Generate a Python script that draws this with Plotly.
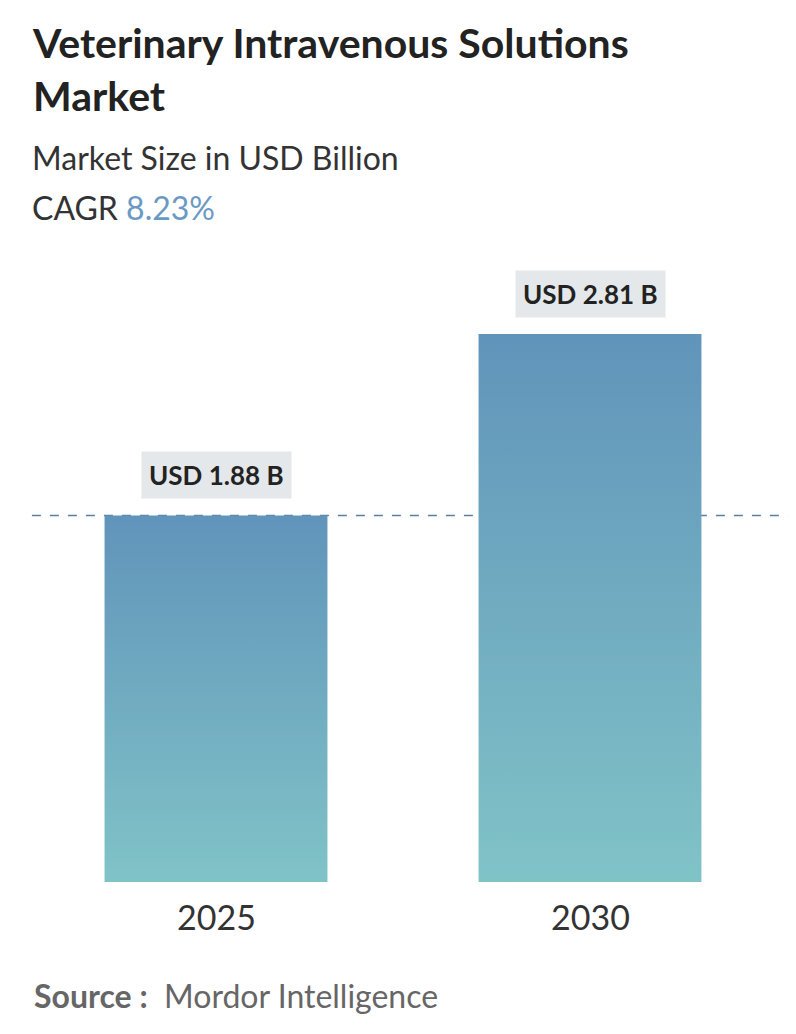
import plotly.graph_objects as go

years = ["2025", "2030"]
values = [1.88, 2.81]
labels = ["USD 1.88 B", "USD 2.81 B"]

W, H = 796, 1034
OFF = 8  # page margin offset
px_per_x = 374.0
px_per_y = 195.0
base_px = 882 - OFF
half = 0.298

fig = go.Figure()
for i, v in enumerate(values):
    fig.add_trace(go.Scatter(
        x=[i - half, i + half, i + half, i - half, i - half],
        y=[0, 0, v, v, 0],
        mode="lines", line=dict(width=0), fill="toself",
        fillgradient=dict(type="vertical",
                          colorscale=[[0, "#80C3C7"], [1, "#6194BA"]]),
        hoverinfo="skip", showlegend=False))
    fig.add_annotation(x=i, y=v, yshift=40, text="<b>" + labels[i] + "</b>",
                       showarrow=False, font=dict(size=26, color="#222", family="Lato"),
                       bgcolor="#E4E8EB", borderpad=7)
    fig.add_annotation(x=i, y=0, yshift=-34, text=years[i], showarrow=False,
                       font=dict(size=34, color="#333", family="Lato"))


def ypap(px):
    return 1 - (px - OFF) / H


fig.add_shape(type="line", xref="paper", x0=0.03, x1=1.0, y0=values[0], y1=values[0],
              line=dict(color="#5B7FA3", width=1.5, dash="dash"), layer="below")

fig.add_annotation(xref="paper", yref="paper", x=(30 - OFF) / W, y=ypap(16), xanchor="left", yanchor="top",
                   align="left", showarrow=False,
                   text="<b>Veterinary Intravenous Solutions<br>Market</b>",
                   font=dict(size=41, color="#222", family="Lato"))
fig.add_annotation(xref="paper", yref="paper", x=(30 - OFF) / W, y=ypap(136), xanchor="left", yanchor="top",
                   showarrow=False, text="Market Size in USD Billion",
                   font=dict(size=32, color="#333", family="Lato"))
fig.add_annotation(xref="paper", yref="paper", x=(30 - OFF) / W, y=ypap(186), xanchor="left", yanchor="top",
                   showarrow=False, text="CAGR <span style='color:#6A9AC4'>8.23%</span>",
                   font=dict(size=32, color="#333", family="Lato"))
fig.add_annotation(xref="paper", yref="paper", x=(32 - OFF) / W, y=ypap(995), xanchor="left", yanchor="middle",
                   showarrow=False,
                   text="<b>Source :</b>  Mordor Intelligence",
                   font=dict(size=32, color="#666", family="Lato"))

fig.update_layout(
    width=W, height=H, margin=dict(l=0, r=0, t=0, b=0),
    paper_bgcolor="white", plot_bgcolor="white",
    xaxis=dict(range=[-(216 - OFF) / px_per_x, 1 + (W - 590 + OFF) / px_per_x], visible=False),
    yaxis=dict(range=[-(H - base_px) / px_per_y, base_px / px_per_y], visible=False),
)
fig.write_html("out.html")
